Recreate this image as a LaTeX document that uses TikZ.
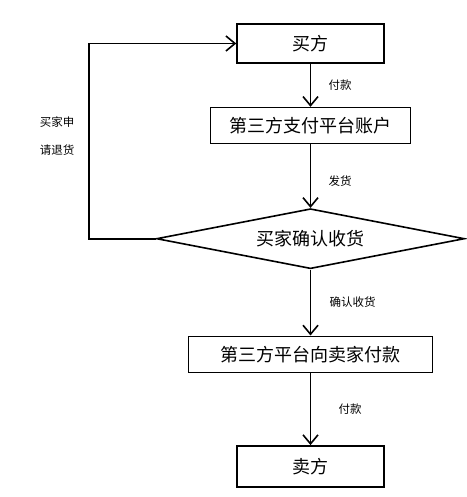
\documentclass[tikz,border=0pt]{standalone}
\usepackage{fontspec}
\newfontfamily\cjk{Noto Sans CJK SC}
\usepackage{tikz}
\usetikzlibrary{positioning}
\usetikzlibrary{shapes.geometric}
\usetikzlibrary{arrows.meta}

\begin{document}
\begin{tikzpicture}[
    x=1pt, y=-1pt, % pixel-like units, y going down
    line width=1.6pt,
    node distance=44pt,
    every node/.style={
        font=\cjk % Chinese font for all texts
    },
    stepbox/.style={
        draw, % Plain rectangle
        inner sep=0pt,
        minimum height=38pt,
        font=\cjk\fontsize{18pt}{20pt}\selectfont
    },
    check/.style={
        draw, diamond, aspect=5, inner sep=0pt,
        minimum width=308pt, minimum height=60pt,
        font=\cjk\fontsize{18pt}{20pt}\selectfont
    },
    lbl/.style={
        font=\cjk\fontsize{11.5pt}{14pt}\selectfont
    },
    flow/.style={-{Straight Barb[length=9pt,width=15pt]}} % Open arrow head
]
\useasboundingbox (0,0) rectangle (466,497);

\node[stepbox, minimum width=147pt, minimum height=39pt] (buyer) at (310.5,43.5) {买方};
\node[stepbox, minimum width=200pt, minimum height=36pt, below=43pt of buyer] (account) {第三方支付平台账户};
\node[check, below=63.5pt of account] (confirm) {买家确认收货};
\node[stepbox, minimum width=244pt, minimum height=36pt, below=66pt of confirm] (release) {第三方平台向卖家付款};
\node[stepbox, minimum width=147pt, minimum height=41pt, below=72pt of release] (seller) {卖方};

% main flow
\draw[flow] (buyer) -- node[lbl, right=14pt] (pay) {付款} (account);
\draw[flow] (account) -- node[lbl, right=14pt, yshift=-5pt] (ship) {发货} (confirm);
\draw[flow] (confirm) -- node[lbl, right=15pt] (received) {确认收货} (release);
\draw[flow] (release) -- node[lbl, right=24pt] (paid) {付款} (seller);

% return loop
\coordinate (back) at (89,0);
\draw[flow] (confirm.west) -| (back |- buyer) -- (buyer.west);
\node[lbl, align=center, font=\cjk\fontsize{11.5pt}{28pt}\selectfont] (refund) at (57,136) {买家申\\请退货};
\end{tikzpicture}
\end{document}
